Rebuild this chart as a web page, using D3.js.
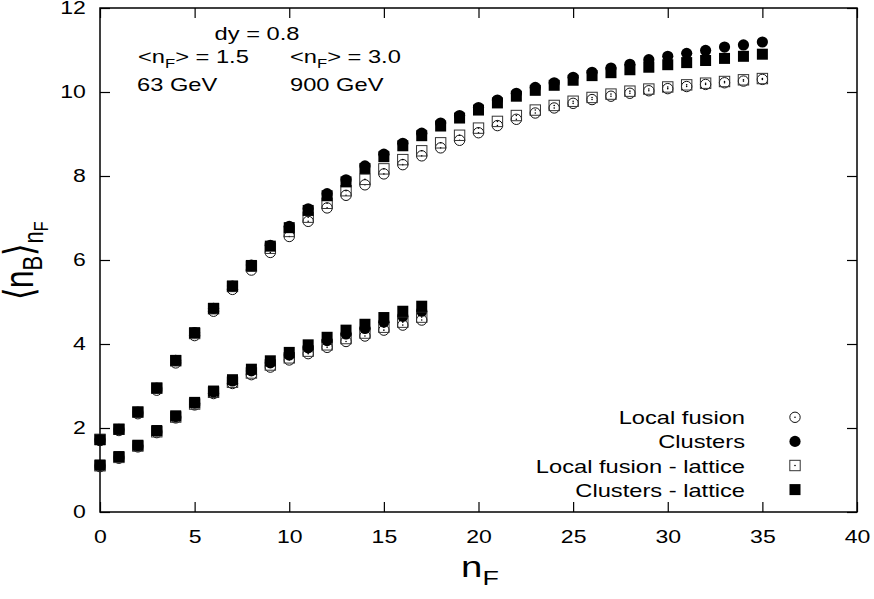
<!DOCTYPE html>
<html>
<head>
<meta charset="utf-8">
<script src="https://cdn.jsdelivr.net/npm/d3@7"></script>
<style>
  body { margin: 0; background: #fff; }
  svg { display: block; font-family: "Liberation Sans", Arial, Helvetica, sans-serif; }
</style>
</head>
<body>
<div id="chart"></div>
<script>
var w = 874,
    h = 599;

// --- data ---
var nF63 = [0, 1, 2, 3, 4, 5, 6, 7, 8, 9, 10, 11, 12, 13, 14, 15, 16, 17];
var localFusion63        = [1.08, 1.28, 1.55, 1.89, 2.24, 2.55, 2.82, 3.06, 3.27, 3.45, 3.62, 3.77, 3.92, 4.06, 4.19, 4.33, 4.45, 4.57];
var clusters63           = [1.11, 1.31, 1.58, 1.93, 2.27, 2.59, 2.86, 3.12, 3.36, 3.55, 3.74, 3.91, 4.08, 4.24, 4.37, 4.52, 4.66, 4.78];
var localFusionLattice63 = [1.10, 1.30, 1.57, 1.91, 2.26, 2.57, 2.85, 3.09, 3.31, 3.50, 3.67, 3.83, 3.98, 4.13, 4.26, 4.40, 4.52, 4.64];
var clustersLattice63    = [1.12, 1.32, 1.59, 1.94, 2.29, 2.61, 2.88, 3.15, 3.40, 3.60, 3.80, 3.98, 4.16, 4.33, 4.47, 4.63, 4.78, 4.90];

var nF900 = [0, 1, 2, 3, 4, 5, 6, 7, 8, 9, 10, 11, 12, 13, 14, 15, 16, 17,
             18, 19, 20, 21, 22, 23, 24, 25, 26, 27, 28, 29, 30, 31, 32, 33, 34, 35];
var localFusion900 = [1.70, 1.94, 2.34, 2.90, 3.55, 4.20, 4.78, 5.30, 5.76, 6.18, 6.56, 6.92, 7.24, 7.54, 7.79, 8.05, 8.27, 8.48,
                      8.67, 8.85, 9.03, 9.20, 9.35, 9.50, 9.62, 9.73, 9.82, 9.90, 9.97, 10.03, 10.08, 10.13, 10.18, 10.22, 10.26, 10.30];
var clusters900 = [1.72, 1.97, 2.38, 2.95, 3.61, 4.27, 4.85, 5.38, 5.88, 6.35, 6.80, 7.22, 7.58, 7.91, 8.24, 8.52, 8.78, 9.02,
                   9.26, 9.44, 9.63, 9.81, 9.97, 10.11, 10.22, 10.35, 10.47, 10.57, 10.66, 10.77, 10.85, 10.92, 10.99, 11.07, 11.12, 11.19];
var localFusionLattice900 = [1.73, 1.97, 2.38, 2.95, 3.60, 4.25, 4.84, 5.37, 5.85, 6.28, 6.68, 7.02, 7.35, 7.65, 7.92, 8.17, 8.39, 8.60,
                             8.79, 8.97, 9.14, 9.30, 9.44, 9.57, 9.68, 9.78, 9.87, 9.95, 10.02, 10.07, 10.12, 10.17, 10.21, 10.25, 10.29, 10.32];
var clustersLattice900 = [1.72, 1.97, 2.38, 2.95, 3.61, 4.27, 4.85, 5.38, 5.87, 6.33, 6.77, 7.18, 7.53, 7.86, 8.18, 8.46, 8.72, 8.96,
                          9.19, 9.38, 9.57, 9.74, 9.90, 10.04, 10.16, 10.28, 10.39, 10.46, 10.53, 10.59, 10.65, 10.70, 10.75, 10.80, 10.85, 10.90];

var xTicks = [0, 5, 10, 15, 20, 25, 30, 35, 40];
var yTicks = [0, 2, 4, 6, 8, 10, 12];
var legendLabels = ["Local fusion", "Clusters", "Local fusion - lattice", "Clusters - lattice"];
var markerTypes = ["openCircle", "filledCircle", "openSquare", "filledSquare"];

// the original text is drawn wider than it is tall
var sx = 1.28;

var svg = d3.select("#chart").append("svg")
            .attr("width", w)
            .attr("height", h);

var x = d3.scaleLinear().domain([0, 40]).range([100, 857]);
var y = d3.scaleLinear().domain([0, 12]).range([512, 8]);

// --- axes, ticks pointing inward, mirrored on top/right ---
var xAxis = svg.append("g")
  .attr("transform", "translate(0," + y(0) + ")")
  .call(d3.axisBottom(x).tickValues(xTicks).tickSize(-10).tickPadding(18));
var yAxis = svg.append("g")
  .attr("transform", "translate(" + x(0) + ",0)")
  .call(d3.axisLeft(y).tickValues(yTicks).tickSize(-10).tickPadding(11));
svg.append("g")
  .attr("transform", "translate(0," + y(12) + ")")
  .call(d3.axisTop(x).tickValues(xTicks).tickSize(-10).tickFormat(""));
svg.append("g")
  .attr("transform", "translate(" + x(40) + ",0)")
  .call(d3.axisRight(y).tickValues(yTicks).tickSize(-10).tickFormat(""));

svg.selectAll(".domain").remove();
svg.selectAll(".tick line").attr("stroke", "#000").attr("stroke-width", 1.2);
svg.selectAll(".tick text")
   .attr("fill", "#000")
   .style("font-size", "18px")
   .style("font-family", "Liberation Sans, Arial, sans-serif")
   .attr("transform", "scale(" + sx + ",1)");

svg.append("rect")
   .attr("x", x(0)).attr("y", y(12))
   .attr("width", x(40) - x(0)).attr("height", y(0) - y(12))
   .attr("fill", "none").attr("stroke", "#000").attr("stroke-width", 1.5);

// --- markers ---
function drawMarkers(g, type, px, py) {
  if (type === "openCircle") {
    g.append("circle").attr("cx", px).attr("cy", py).attr("r", 5.2)
     .attr("fill", "none").attr("stroke", "#111").attr("stroke-width", 1);
    g.append("circle").attr("cx", px).attr("cy", py).attr("r", 0.8).attr("fill", "#000");
  } else if (type === "filledCircle") {
    g.append("circle").attr("cx", px).attr("cy", py).attr("r", 5.6).attr("fill", "#000");
  } else if (type === "openSquare") {
    g.append("rect").attr("x", px - 5.2).attr("y", py - 5.2).attr("width", 10.4).attr("height", 10.4)
     .attr("fill", "none").attr("stroke", "#333").attr("stroke-width", 1);
    g.append("circle").attr("cx", px).attr("cy", py).attr("r", 0.8).attr("fill", "#000");
  } else {
    g.append("rect").attr("x", px - 5.5).attr("y", py - 5.5).attr("width", 11).attr("height", 11).attr("fill", "#000");
  }
}

var series = [
  [nF63, localFusion63, "openCircle"],
  [nF63, clusters63, "filledCircle"],
  [nF63, localFusionLattice63, "openSquare"],
  [nF63, clustersLattice63, "filledSquare"],
  [nF900, localFusion900, "openCircle"],
  [nF900, clusters900, "filledCircle"],
  [nF900, localFusionLattice900, "openSquare"],
  [nF900, clustersLattice900, "filledSquare"]
];

var plot = svg.append("g");
series.forEach(function(s) {
  var g = plot.append("g");
  s[1].forEach(function(v, i) {
    drawMarkers(g, s[2], x(s[0][i]), y(v));
  });
});

// --- text helpers ---
function wideText(x0, y0, anchor, size) {
  return svg.append("text")
    .attr("transform", "translate(" + x0 + "," + y0 + ") scale(" + sx + ",1)")
    .attr("text-anchor", anchor)
    .style("font-size", size + "px")
    .attr("fill", "#000");
}

// annotations
wideText(257, 40, "middle", 18.5).text("dy = 0.8");
[["1.5", 138], ["3.0", 290]].forEach(function(a) {
  var t = wideText(a[1], 63, "start", 18.5);
  t.append("tspan").text("<n");
  t.append("tspan").attr("dy", 5).style("font-size", "13px").text("F");
  t.append("tspan").attr("dy", -5).text("> = " + a[0]);
});
wideText(137, 91, "start", 18.5).text("63 GeV");
wideText(290, 91, "start", 18.5).text("900 GeV");

// legend
legendLabels.forEach(function(lbl, i) {
  var by = 424.3 + i * 24.1;
  wideText(745, by, "end", 18.5).text(lbl);
  drawMarkers(svg.append("g"), markerTypes[i], 795, by - 7);
});

// axis titles
var xt = wideText(480, 577, "middle", 30);
xt.append("tspan").text("n");
xt.append("tspan").attr("dy", 8).style("font-size", "21px").text("F");

var yt = svg.append("text")
  .attr("transform", "translate(33,261) scale(" + sx + ",1) rotate(-90)")
  .attr("text-anchor", "middle")
  .style("font-size", "32px")
  .attr("fill", "#000");
yt.append("tspan").text("\u27e8n");
yt.append("tspan").attr("dy", 7).style("font-size", "22px").text("B");
yt.append("tspan").attr("dy", -7).text("\u27e9");
yt.append("tspan").attr("dy", 8).style("font-size", "22px").text("n");
yt.append("tspan").attr("dy", 4).style("font-size", "16px").text("F");
</script>
</body>
</html>
